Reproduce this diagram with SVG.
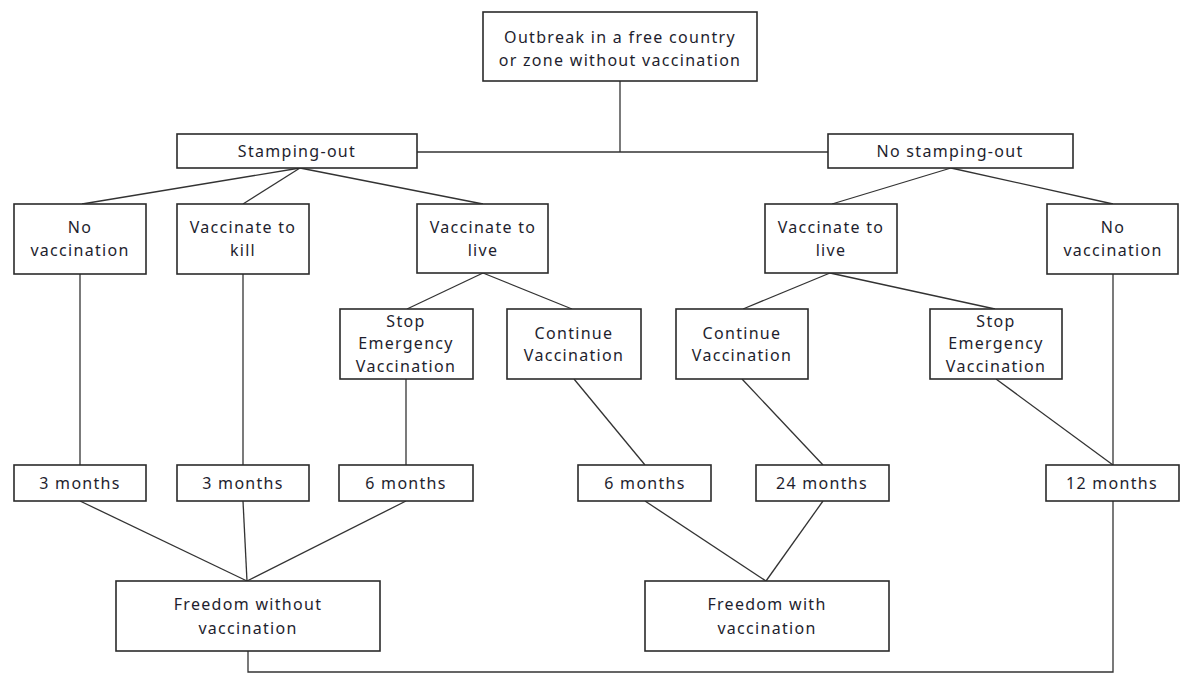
<svg xmlns="http://www.w3.org/2000/svg" width="1185" height="675" viewBox="0 0 1185 675">
<style>
rect{fill:#fff;stroke:#2b2b2b;stroke-width:1.6}
text{font-family:"Noto Sans","Open Sans","DejaVu Sans",sans-serif;font-size:16px;fill:#1e1e2e;text-anchor:middle;letter-spacing:1.3px}
.c line,.c polyline{stroke:#333;stroke-width:1.3;fill:none}
</style>
<rect x="0" y="0" width="1185" height="675" style="fill:#fff;stroke:none"/>
<g class="c" id="connectors">
<line x1="620" y1="81" x2="620" y2="152"/>
<line x1="417" y1="152" x2="828" y2="152"/>
<line x1="300" y1="168" x2="82" y2="204"/>
<line x1="300" y1="168" x2="243" y2="204"/>
<line x1="300" y1="168" x2="483" y2="204"/>
<line x1="951" y1="168" x2="832" y2="204"/>
<line x1="951" y1="168" x2="1113" y2="204"/>
<line x1="483" y1="273" x2="407" y2="309"/>
<line x1="483" y1="273" x2="572" y2="309"/>
<line x1="830" y1="273" x2="743" y2="309"/>
<line x1="830" y1="273" x2="995" y2="309"/>
<line x1="80" y1="274" x2="80" y2="465"/>
<line x1="243" y1="274" x2="243" y2="465"/>
<line x1="406" y1="379" x2="406" y2="465"/>
<line x1="574" y1="379" x2="645" y2="465"/>
<line x1="742" y1="379" x2="823" y2="465"/>
<line x1="996" y1="379" x2="1113" y2="465"/>
<line x1="1113" y1="274" x2="1113" y2="465"/>
<line x1="80" y1="501" x2="247" y2="581"/>
<line x1="243" y1="501" x2="247" y2="581"/>
<line x1="406" y1="501" x2="247" y2="581"/>
<line x1="645" y1="501" x2="766" y2="581"/>
<line x1="823" y1="501" x2="766" y2="581"/>
<polyline points="248,651 248,672 1113,672 1113,501"/>
</g>
<g id="outbreak"><rect x="483" y="12" width="274" height="69"/><text x="620" y="43">Outbreak in a free country</text><text x="620" y="66">or zone without vaccination</text></g>
<g id="stamping-out"><rect x="177" y="134" width="240" height="34"/><text x="297" y="157">Stamping-out</text></g>
<g id="no-stamping-out"><rect x="828" y="134" width="245" height="34"/><text x="950" y="157">No stamping-out</text></g>
<g id="no-vacc-l"><rect x="14" y="204" width="132" height="70"/><text x="80" y="233">No</text><text x="80" y="256">vaccination</text></g>
<g id="vacc-kill"><rect x="177" y="204" width="132" height="70"/><text x="243" y="233">Vaccinate to</text><text x="243" y="256">kill</text></g>
<g id="vacc-live-l"><rect x="417" y="204" width="131" height="69"/><text x="483" y="233">Vaccinate to</text><text x="483" y="256">live</text></g>
<g id="vacc-live-r"><rect x="765" y="204" width="132" height="69"/><text x="831" y="233">Vaccinate to</text><text x="831" y="256">live</text></g>
<g id="no-vacc-r"><rect x="1047" y="204" width="131" height="70"/><text x="1113" y="233">No</text><text x="1113" y="256">vaccination</text></g>
<g id="stop-l"><rect x="340" y="309" width="133" height="70"/><text x="406" y="327">Stop</text><text x="406" y="349">Emergency</text><text x="406" y="372">Vaccination</text></g>
<g id="cont-l"><rect x="507" y="309" width="134" height="70"/><text x="574" y="339">Continue</text><text x="574" y="361">Vaccination</text></g>
<g id="cont-r"><rect x="676" y="309" width="132" height="70"/><text x="742" y="339">Continue</text><text x="742" y="361">Vaccination</text></g>
<g id="stop-r"><rect x="930" y="309" width="132" height="70"/><text x="996" y="327">Stop</text><text x="996" y="349">Emergency</text><text x="996" y="372">Vaccination</text></g>
<g id="m3a"><rect x="14" y="465" width="132" height="36"/><text x="80" y="489">3 months</text></g>
<g id="m3b"><rect x="177" y="465" width="132" height="36"/><text x="243" y="489">3 months</text></g>
<g id="m6a"><rect x="339" y="465" width="134" height="36"/><text x="406" y="489">6 months</text></g>
<g id="m6b"><rect x="578" y="465" width="133" height="36"/><text x="645" y="489">6 months</text></g>
<g id="m24"><rect x="756" y="465" width="133" height="36"/><text x="822" y="489">24 months</text></g>
<g id="m12"><rect x="1046" y="465" width="133" height="36"/><text x="1112" y="489">12 months</text></g>
<g id="free-without"><rect x="116" y="581" width="264" height="70"/><text x="248" y="610">Freedom without</text><text x="248" y="634">vaccination</text></g>
<g id="free-with"><rect x="645" y="581" width="244" height="70"/><text x="767" y="610">Freedom with</text><text x="767" y="634">vaccination</text></g>
</svg>
